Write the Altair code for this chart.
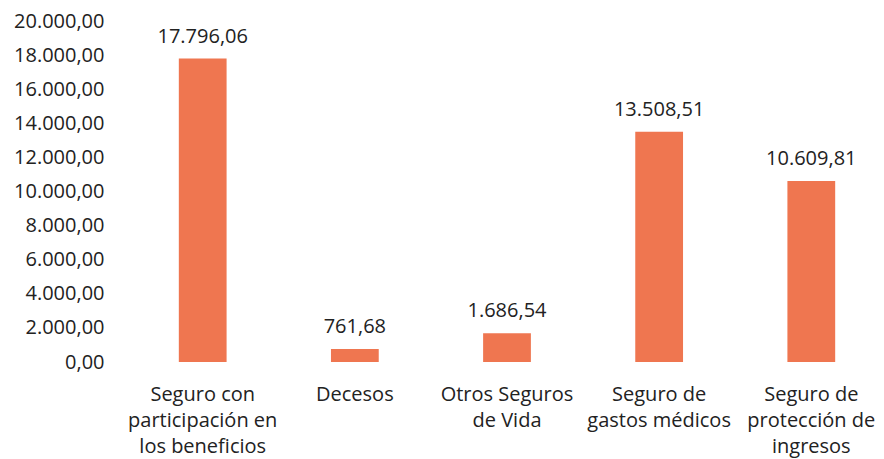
import altair as alt
import pandas as pd

categories = [
    "Seguro con|participación en|los beneficios",
    "Decesos",
    "Otros Seguros|de Vida",
    "Seguro de|gastos médicos",
    "Seguro de|protección de|ingresos",
]
values = [17796.06, 761.68, 1686.54, 13508.51, 10609.81]
value_labels = ["17.796,06", "761,68", "1.686,54", "13.508,51", "10.609,81"]
y_ticks = list(range(0, 20001, 2000))

df = pd.DataFrame({"cat": categories, "val": values, "lab": value_labels})

FONT = "Open Sans"
FS = 20
COLOR = "#EF7650"

x = alt.X(
    "cat:N",
    sort=categories,
    title=None,
    scale=alt.Scale(paddingInner=0.686, paddingOuter=0.242),
    axis=alt.Axis(
        labelAngle=0,
        labelExpr="split(datum.label, '|')",
        domain=False,
        ticks=False,
        grid=False,
        labelFont=FONT,
        labelFontSize=FS,
        labelColor="#222222",
        labelPadding=22,
        labelLineHeight=26,
        labelBaseline="top",
        labelOverlap=False,
    ),
)
y = alt.Y(
    "val:Q",
    title=None,
    scale=alt.Scale(domain=[0, 20000], nice=False),
    axis=alt.Axis(
        values=y_ticks,
        labelExpr="replace(replace(replace(format(datum.value, ',.2f'), ',', '#'), '.', ','), '#', '.')",
        domain=False,
        ticks=False,
        grid=False,
        labelFont=FONT,
        labelFontSize=FS,
        labelColor="#222222",
        labelPadding=38,
        labelOverlap=False,
        labelBound=False,
        labelFlush=False,
    ),
)

base = alt.Chart(df).encode(x=x, y=y)
bars = base.mark_bar(color=COLOR)
text = base.mark_text(
    font=FONT, fontSize=FS, color="#222222", baseline="alphabetic", dy=-16
).encode(text="lab:N")

chart = (
    alt.layer(bars, text)
    .properties(
        width=730,
        height=341,
        autosize=alt.AutoSizeParams(type="none"),
        padding={"left": 134, "top": 13, "right": 4, "bottom": 97},
    )
    .configure_view(stroke=None)
    .configure_axis(grid=False, labelOverlap=False)
)

chart.save("out.html", embed_options={"renderer": "svg", "actions": False})
